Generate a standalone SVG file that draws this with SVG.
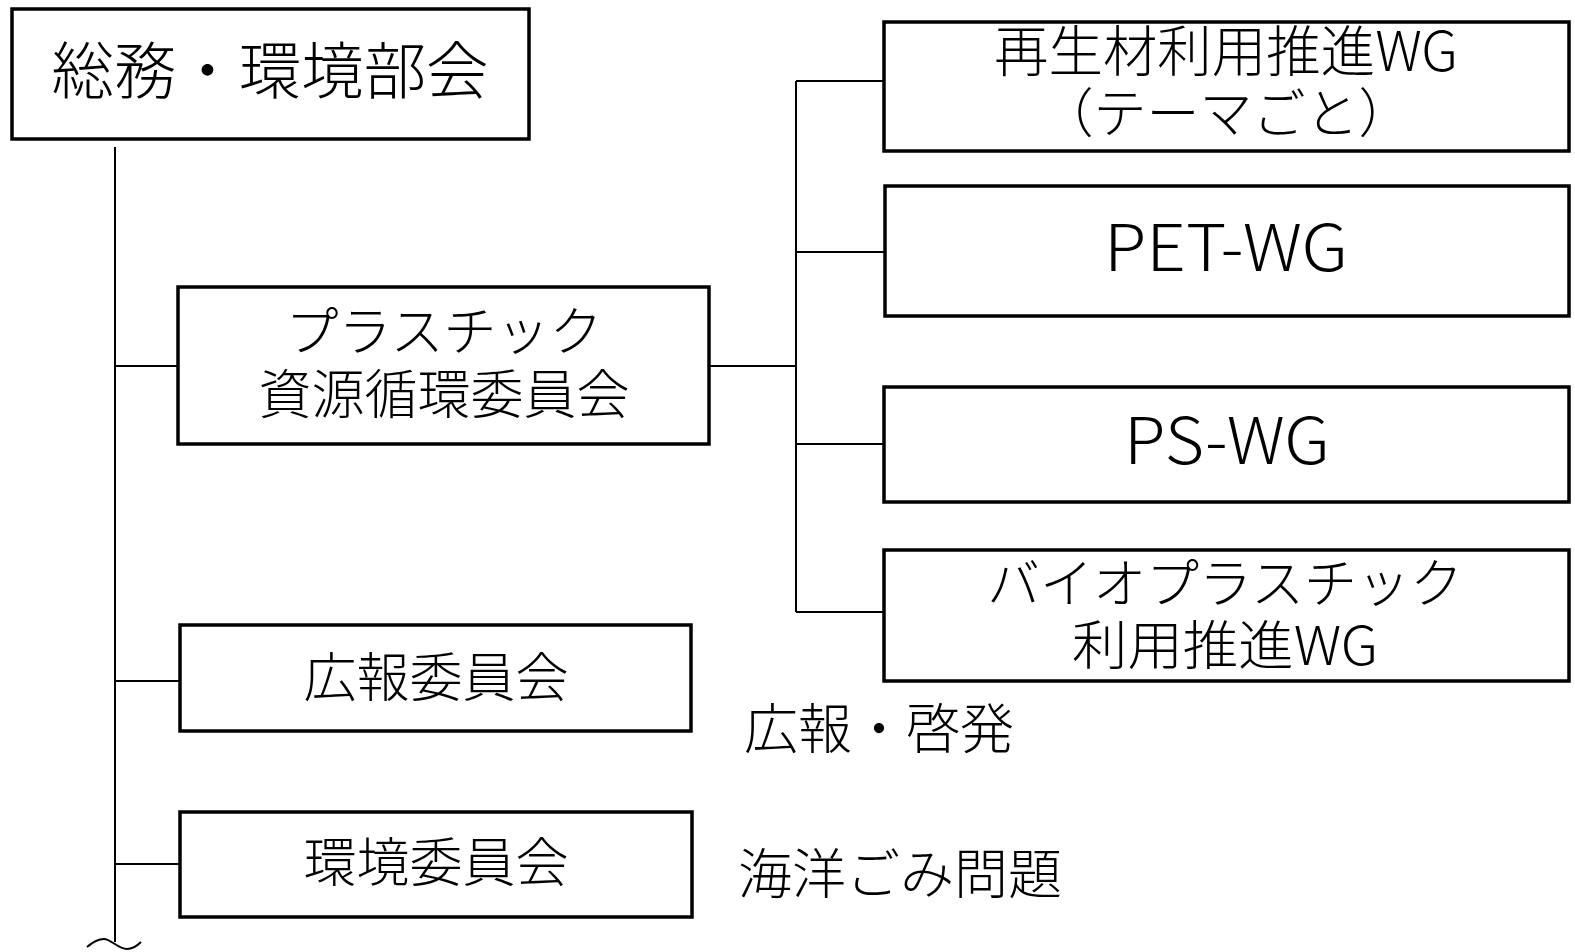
<svg xmlns="http://www.w3.org/2000/svg" width="1575" height="952" viewBox="0 0 1575 952">
<style>
.box{fill:#fff;stroke:#000;stroke-width:3.5}
.ln{fill:none;stroke:#000;stroke-width:2}
text{font-family:"Noto Sans CJK JP","Noto Sans",sans-serif;font-weight:300;fill:#000}
.c{text-anchor:middle}
</style>
<rect width="1575" height="952" fill="#fff"/>
<g id="connectors">
<path class="ln" d="M115 147V942"/>
<path class="ln" d="M115 366H178M115 681H180M115 864H180"/>
<path class="ln" d="M709 366H796M796 81V612M796 81H884M796 252H885M796 444H884M796 612H884"/>
<path class="ln" d="M87 947C94 941 99 939 104 939C111 939 118 949 127 949C133 949 137 946 141 942"/>
</g>
<g id="n-soumu">
<rect class="box" x="12" y="9" width="517" height="130"/>
<text class="c" x="270" y="94" font-size="62" textLength="437" lengthAdjust="spacingAndGlyphs">総務・環境部会</text>
</g>
<g id="n-plastic">
<rect class="box" x="178" y="287" width="531" height="157"/>
<text class="c" x="444" y="351" font-size="53">プラスチック</text>
<text class="c" x="444" y="414" font-size="53">資源循環委員会</text>
</g>
<g id="n-kouhou">
<rect class="box" x="180" y="625" width="511" height="106"/>
<text class="c" x="436" y="697" font-size="53">広報委員会</text>
</g>
<g id="n-kankyou">
<rect class="box" x="180" y="812" width="512" height="105"/>
<text class="c" x="436" y="882" font-size="53">環境委員会</text>
</g>
<g id="n-wg1">
<rect class="box" x="884" y="22" width="685" height="129"/>
<text class="c" x="1226" y="71" font-size="55" textLength="464" lengthAdjust="spacingAndGlyphs">再生材利用推進WG</text>
<text class="c" x="1226" y="133" font-size="53">（テーマごと）</text>
</g>
<g id="n-pet">
<rect class="box" x="885" y="186" width="684" height="130"/>
<text class="c" x="1226" y="271" font-size="64" textLength="244" lengthAdjust="spacingAndGlyphs">PET-WG</text>
</g>
<g id="n-ps">
<rect class="box" x="884" y="387" width="685" height="115"/>
<text class="c" x="1227" y="464" font-size="64" textLength="206" lengthAdjust="spacingAndGlyphs">PS-WG</text>
</g>
<g id="n-bio">
<rect class="box" x="884" y="550" width="685" height="131"/>
<text class="c" x="1225" y="603" font-size="53">バイオプラスチック</text>
<text class="c" x="1225" y="665" font-size="53" textLength="306" lengthAdjust="spacingAndGlyphs">利用推進WG</text>
</g>
<g id="labels">
<text x="744" y="749" font-size="54">広報・啓発</text>
<text x="738" y="894" font-size="54">海洋ごみ問題</text>
</g>
</svg>
